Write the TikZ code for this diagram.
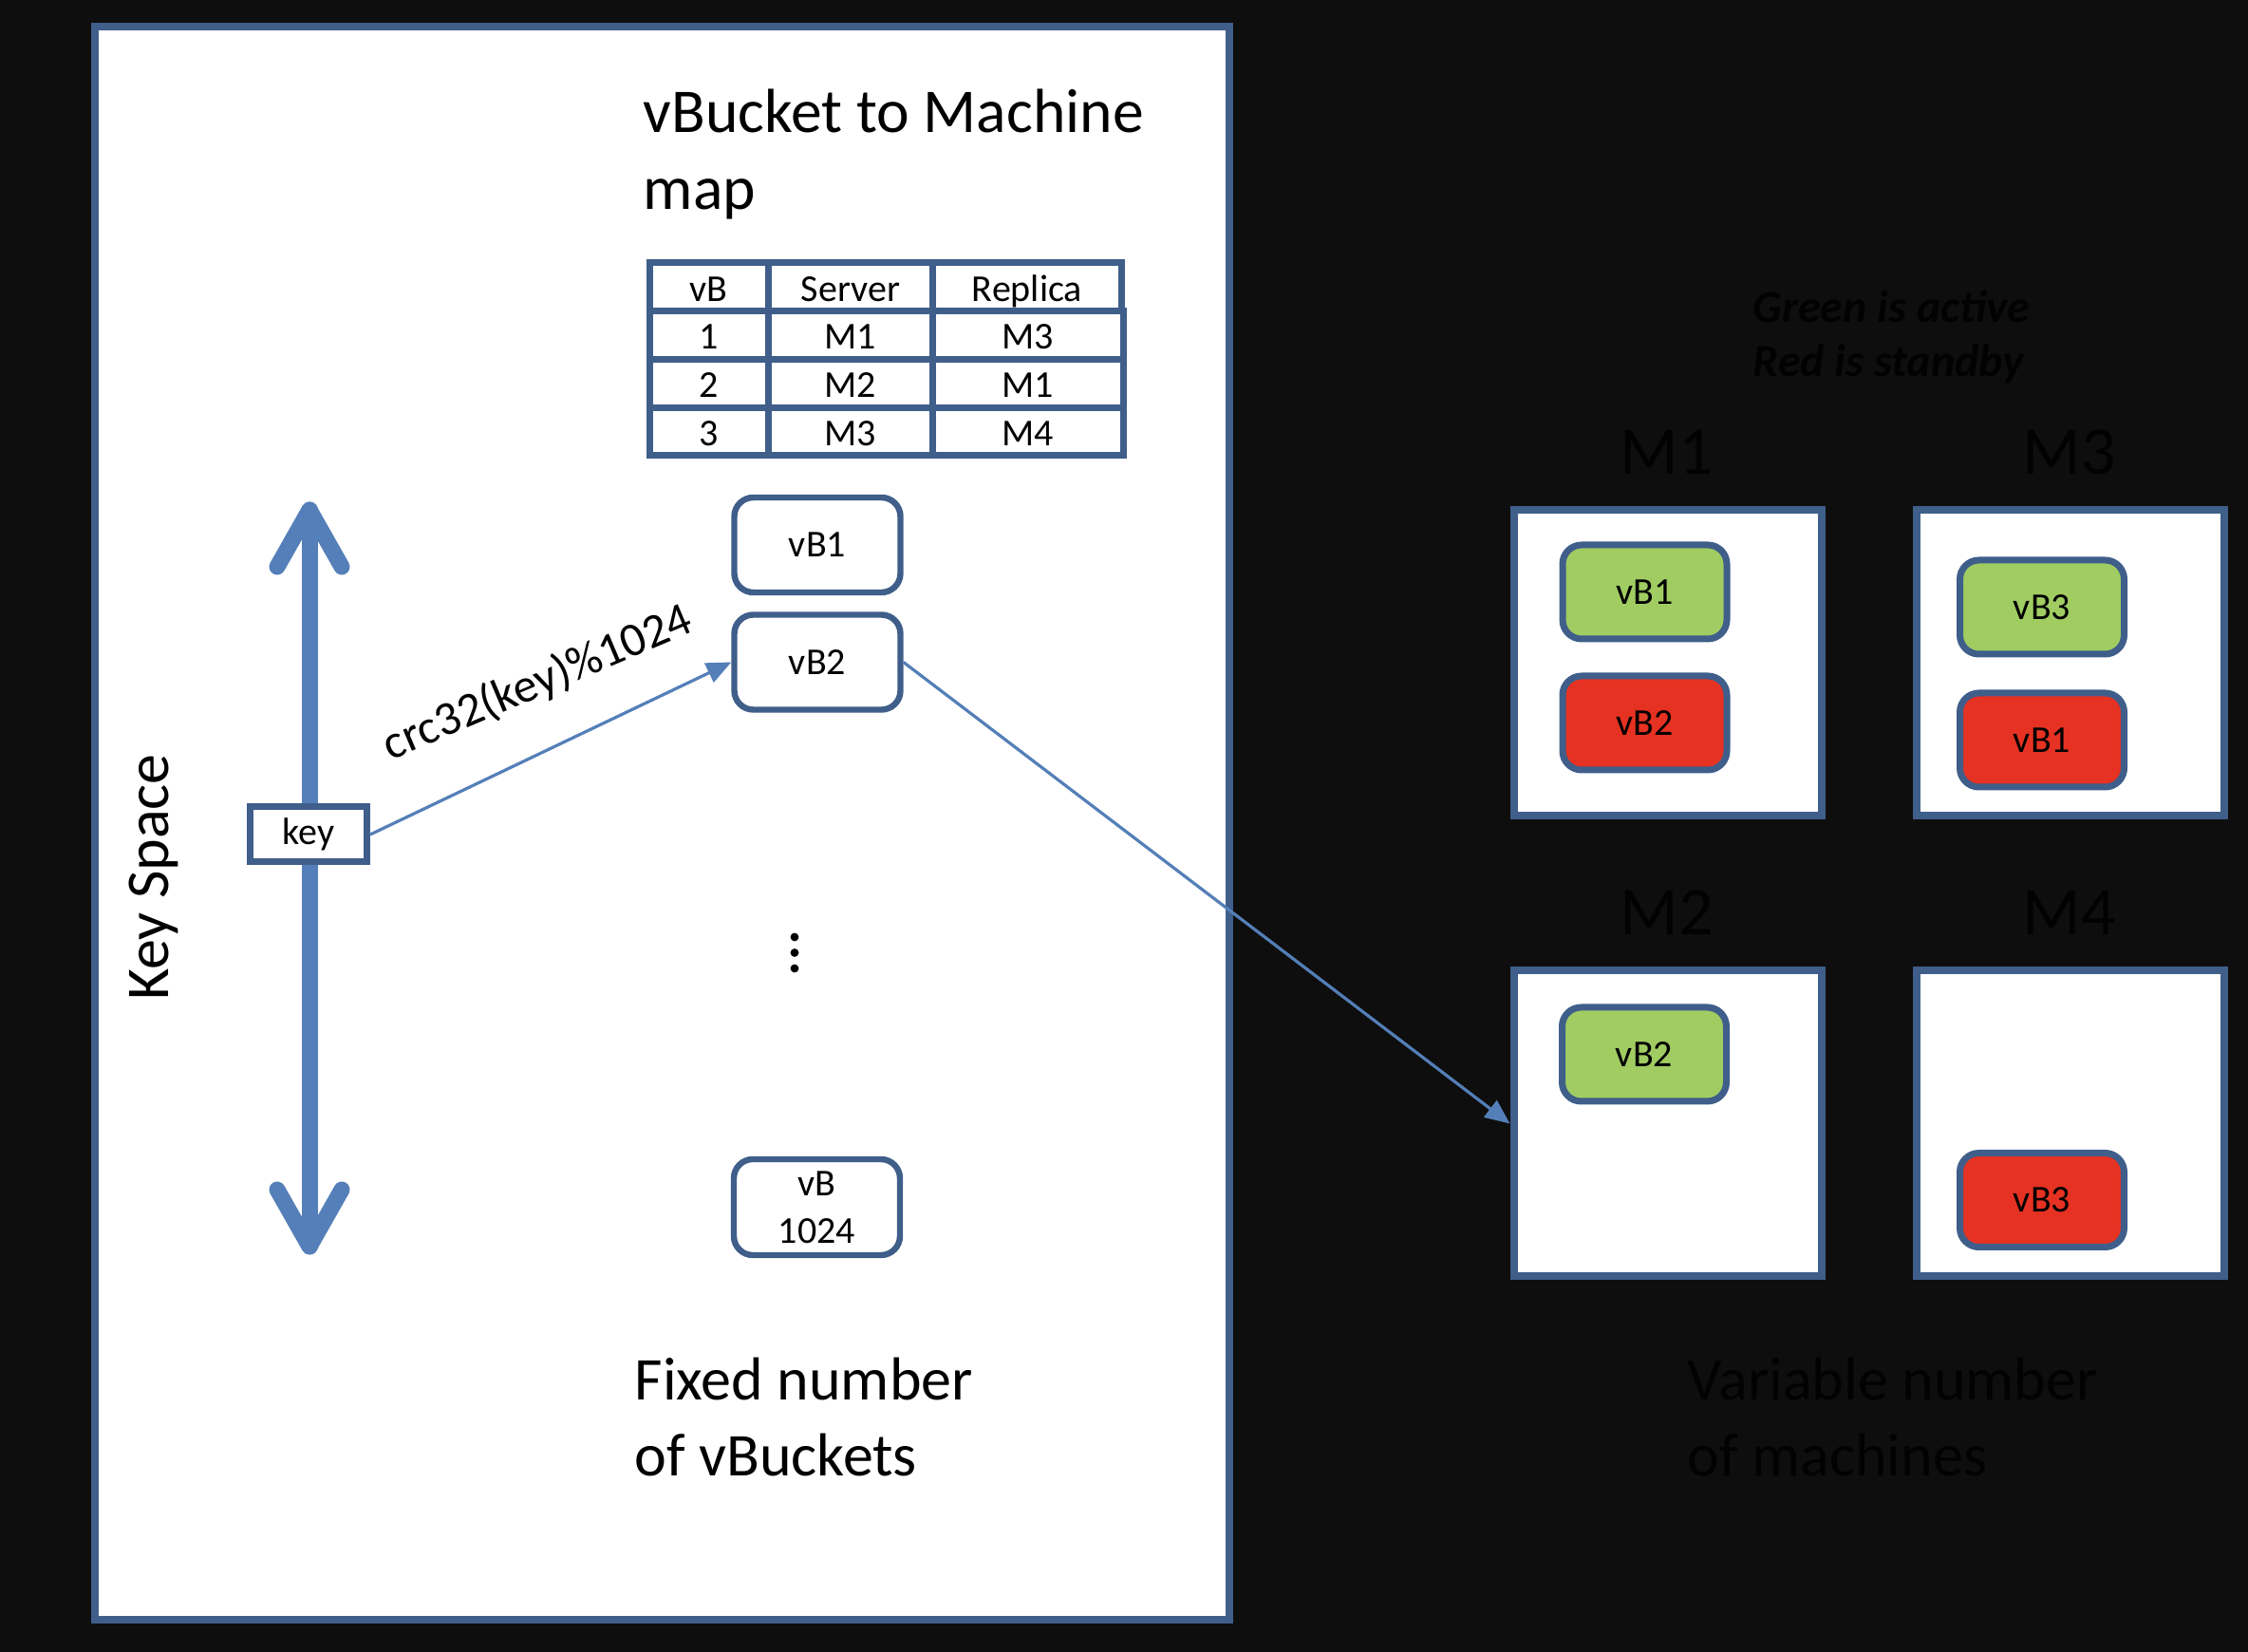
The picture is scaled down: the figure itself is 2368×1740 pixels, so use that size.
\documentclass[tikz,border=0pt]{standalone}
\usepackage{fontspec}
\setmainfont{Carlito}
\usetikzlibrary{arrows.meta}
\definecolor{bgc}{RGB}{14,14,14}
\definecolor{bord}{RGB}{63,94,138}
\definecolor{lblue}{RGB}{84,127,184}
\definecolor{vgreen}{RGB}{160,204,98}
\definecolor{vred}{RGB}{230,50,34}
\definecolor{darktext}{RGB}{2,2,2}
\begin{document}
\begin{tikzpicture}[x=0.25pt,y=-0.25pt,
  panelbox/.style={draw=bord,line width=2pt,fill=white,rectangle,inner sep=0pt},
  vbox/.style={draw=bord,line width=1.6pt,fill=white,rounded corners=5pt,minimum width=43.75pt,minimum height=25pt,inner sep=0pt,align=center,font=\fontsize{10}{12.5}\selectfont},
  cell/.style={draw=bord,line width=1.75pt,minimum height=12.7pt,inner sep=0pt,text height=7.8pt,text depth=0.4pt,font=\fontsize{10}{12}\selectfont},
  mbox/.style={panelbox,minimum width=81pt,minimum height=80.5pt},
  actbox/.style={vbox,fill=vgreen,line width=1.75pt,minimum width=43.25pt,minimum height=24.75pt},
  stdbox/.style={vbox,fill=vred,line width=1.75pt,minimum width=43.25pt,minimum height=24.75pt},
  keyaxis/.style={draw=lblue,line width=4.25pt,line cap=round,line join=round},
  thinarrow/.style={draw=lblue,line width=0.8pt,-{Triangle[length=6.5pt,width=5.5pt]}},
  bigtext/.style={font=\fontsize{16}{20}\selectfont,align=left,inner sep=0pt},
  darklbl/.style={text=darktext,inner sep=0pt}
]
\fill[bgc] (0,0) rectangle (2368,1740);
\useasboundingbox (0,0) rectangle (2368,1740);

% main panel
\node[panelbox,minimum width=298.75pt,minimum height=419.5pt] (panel) at (697.5,867) {};

% title
\node[bigtext,anchor=base west,font=\fontsize{16.4}{20.5}\selectfont] (title1) at (677,140) {vBucket to Machine};
\node[bigtext,anchor=base west,font=\fontsize{16.4}{20.5}\selectfont] (title2) at (677,221) {map};

% table
\node[cell,minimum width=31.25pt] (c11) at (746.5,302.4) {vB};
\node[cell,minimum width=43.4pt] (c12) at (896,302.4) {Server};
\node[cell,minimum width=49.6pt] (c13) at (1082,302.4) {Replica};
\node[cell,minimum width=31.25pt] (c21) at (746.5,353.1) {1};
\node[cell,minimum width=43.4pt] (c22) at (896,353.1) {M1};
\node[cell,minimum width=50.1pt] (c23) at (1083,353.1) {M3};
\node[cell,minimum width=31.25pt] (c31) at (746.5,403.9) {2};
\node[cell,minimum width=43.4pt] (c32) at (896,403.9) {M2};
\node[cell,minimum width=50.1pt] (c33) at (1083,403.9) {M1};
\node[cell,minimum width=31.25pt] (c41) at (746.5,454.6) {3};
\node[cell,minimum width=43.4pt] (c42) at (896,454.6) {M3};
\node[cell,minimum width=50.1pt] (c43) at (1083,454.6) {M4};

% vBuckets
\node[vbox] (vb1) at (861,574) {vB1};
\node[vbox] (vb2) at (861,697.5) {vB2};
\node[vbox,minimum height=25.25pt] (vb1024) at (860.5,1271.5) {vB\\1024};
\fill (837,987) circle (1.1pt);
\fill (837,1003.5) circle (1.1pt);
\fill (837,1020) circle (1.1pt);

% key axis
\coordinate (ktop) at (326,537);
\coordinate (kbot) at (326,1313);
\draw[keyaxis] (ktop) -- (kbot);
\draw[keyaxis] (292,597) -- (ktop) -- (360,597);
\draw[keyaxis] (292,1253) -- (kbot) -- (360,1253);
\node[panelbox,line width=1.75pt,minimum width=30.75pt,minimum height=14.5pt,font=\fontsize{10}{12}\selectfont] (key) at (325,879) {key};
\node[rotate=90,anchor=base,font=\fontsize{16}{20}\selectfont,inner sep=0pt] (keyspace) at (177,924) {Key Space};

\draw[thinarrow] (key.east) -- (vb2.west);
\node[rotate=23,anchor=base,font=\fontsize{12.6}{14}\selectfont,inner sep=0pt] (crc) at (572,733) {crc32(key)\%1024};

% fixed number text
\node[bigtext,anchor=base west] (fixed1) at (668,1475) {Fixed number};
\node[bigtext,anchor=base west] (fixed2) at (668,1555) {of vBuckets};

% right side dark labels
\node[darklbl,anchor=base west,font=\fontsize{12}{14}\selectfont\bfseries\itshape] (legend1) at (1846,340) {Green is active};
\node[darklbl,anchor=base west,font=\fontsize{12}{14}\selectfont\bfseries\itshape] (legend2) at (1846,397) {Red is standby};
\node[darklbl,anchor=base,font=\fontsize{18}{20}\selectfont] (l1) at (1756,500) {M1};
\node[darklbl,anchor=base,font=\fontsize{18}{20}\selectfont] (l3) at (2180,500) {M3};
\node[darklbl,anchor=base,font=\fontsize{18}{20}\selectfont] (l2) at (1756,985) {M2};
\node[darklbl,anchor=base,font=\fontsize{18}{20}\selectfont] (l4) at (2180,985) {M4};
\node[darklbl,anchor=base west,font=\fontsize{16}{20}\selectfont] (var1) at (1777,1475) {Variable number};
\node[darklbl,anchor=base west,font=\fontsize{16}{20}\selectfont] (var2) at (1777,1555) {of machines};

% machines
\node[mbox] (m1) at (1757,698) {};
\node[mbox] (m3) at (2180.5,698) {};
\node[mbox] (m2) at (1756.5,1183.5) {};
\node[mbox] (m4) at (2180.5,1183.5) {};

\node[actbox] (m1a) at (1732.5,623.5) {vB1};
\node[stdbox] (m1s) at (1732.5,761.5) {vB2};
\node[actbox] (m3a) at (2151,639.5) {vB3};
\node[stdbox] (m3s) at (2151,779.5) {vB1};
\node[actbox] (m2a) at (1732,1110.5) {vB2};
\node[stdbox] (m4s) at (2151,1264) {vB3};

\draw[thinarrow] (vb2.east) -- (m2.west);
\end{tikzpicture}
\end{document}
